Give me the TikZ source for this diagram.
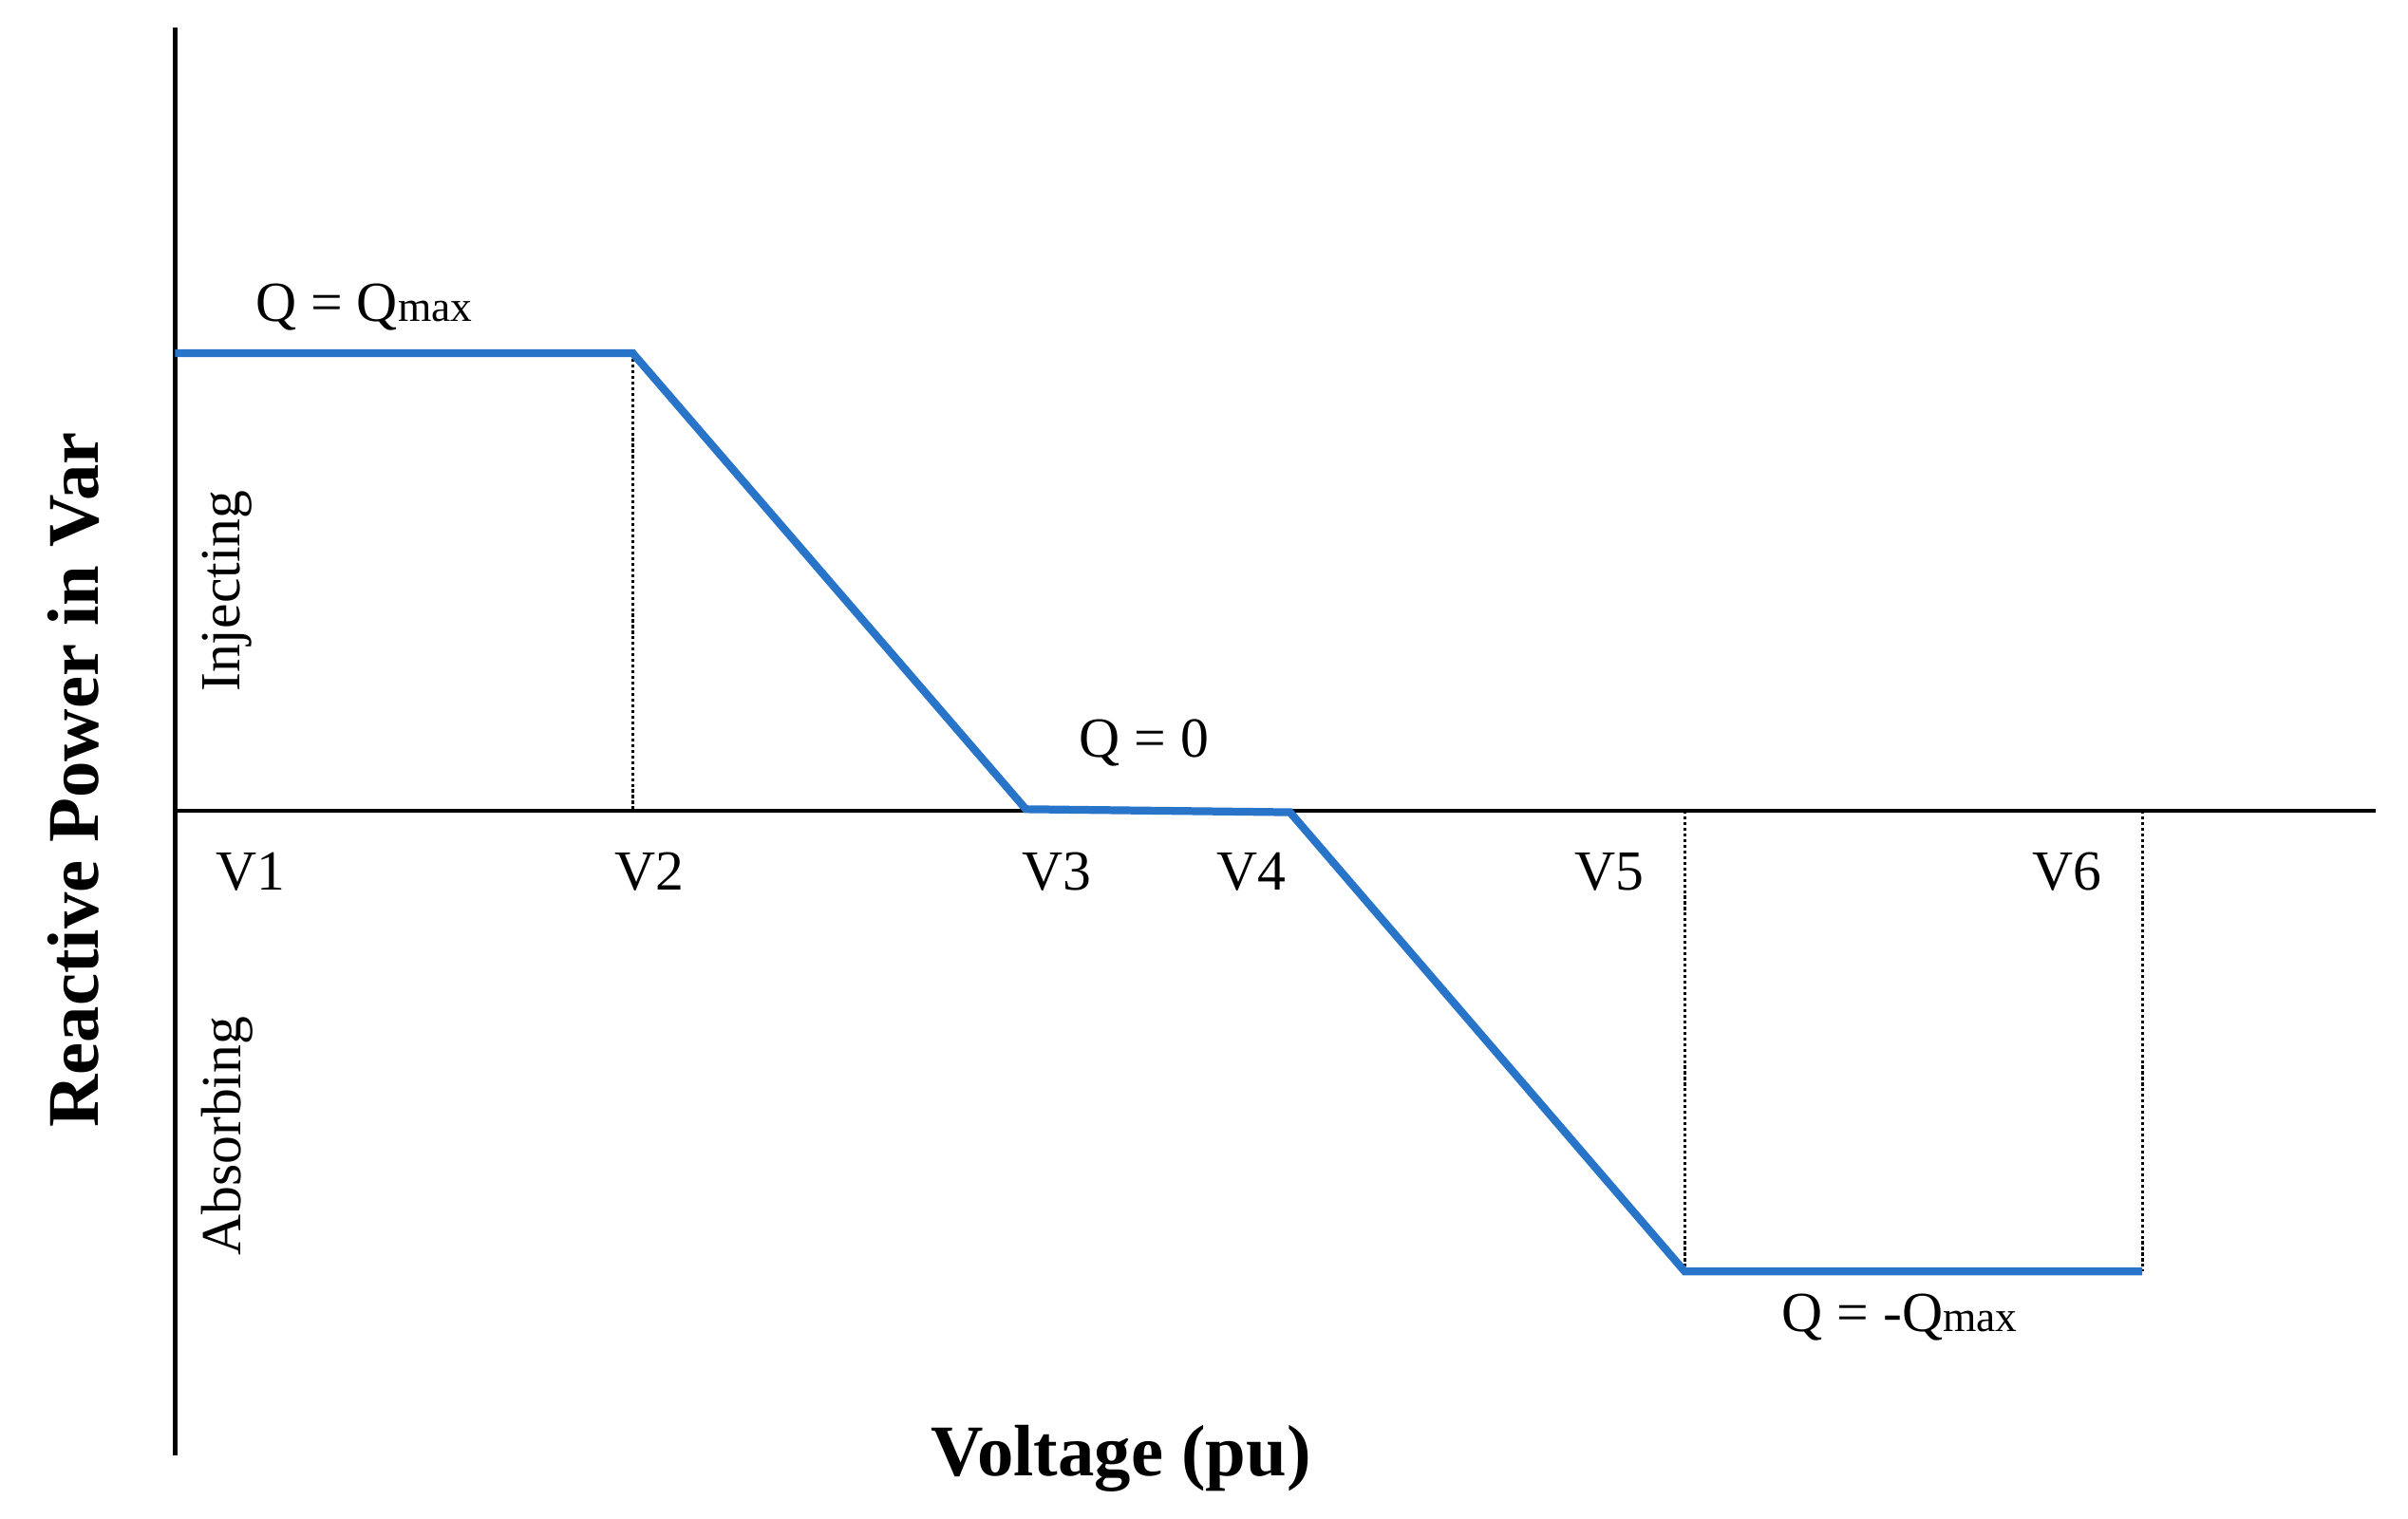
\documentclass[tikz,border=0pt]{standalone}
\usepackage{fontspec}
\setmainfont{Liberation Serif}
\definecolor{curveblue}{RGB}{40,116,200}
\begin{document}
\begin{tikzpicture}[x=0.02cm,y=-0.02cm,
  axis/.style={line width=1.7pt},
  curve/.style={curveblue,line width=2.9pt,line join=miter},
  guide/.style={densely dotted,line width=1.1pt},
  lbl/.style={font=\fontsize{21}{24}\selectfont,inner sep=0pt},
  ttl/.style={font=\fontsize{27}{30}\selectfont\bfseries,inner sep=0pt}]
\useasboundingbox (0,0) rectangle (1568,989);
\coordinate (ytop) at (114,18);
\coordinate (ybot) at (114,948);
\coordinate (xl) at (114,528);
\coordinate (xr) at (1547,528);
\draw[axis] (ytop) -- (ybot);
\draw[axis] (xl) -- (xr);
\coordinate (p0) at (114,230);
\coordinate (p1) at (412,230);
\coordinate (p2) at (668,527);
\coordinate (p3) at (840,529);
\coordinate (p4) at (1097,828);
\coordinate (p5) at (1395,828);
\coordinate (b1) at (412,528);
\coordinate (b4) at (1097,528);
\coordinate (b5) at (1395,528);
\draw[guide] (p1) -- (b1);
\draw[guide] (b4) -- (p4);
\draw[guide] (b5) -- (p5);
\draw[curve] (p0) -- (p1) -- (p2) -- (p3) -- (p4) -- (p5);
\node[lbl] (qmax) at (237,200) {Q = Q{\fontsize{16}{18}\selectfont max}};
\node[lbl] (q0) at (745,484) {Q = 0};
\node[lbl] (qmin) at (1237,858) {Q = -Q{\fontsize{16}{18}\selectfont max}};
\node[lbl] (v1) at (163,568) {V1};
\node[lbl] (v2) at (423,568) {V2};
\node[lbl] (v3) at (688,568) {V3};
\node[lbl] (v4) at (815,568) {V4};
\node[lbl] (v5) at (1048,568) {V5};
\node[lbl] (v6) at (1346,568) {V6};
\node[lbl,rotate=90] (inj) at (148,385) {Injecting};
\node[lbl,rotate=90] (abs) at (148,740) {Absorbing};
\node[ttl,rotate=90] (ylab) at (48,508) {Reactive Power in Var};
\node[ttl] (xlab) at (730,950) {Voltage (pu)};
\end{tikzpicture}
\end{document}
